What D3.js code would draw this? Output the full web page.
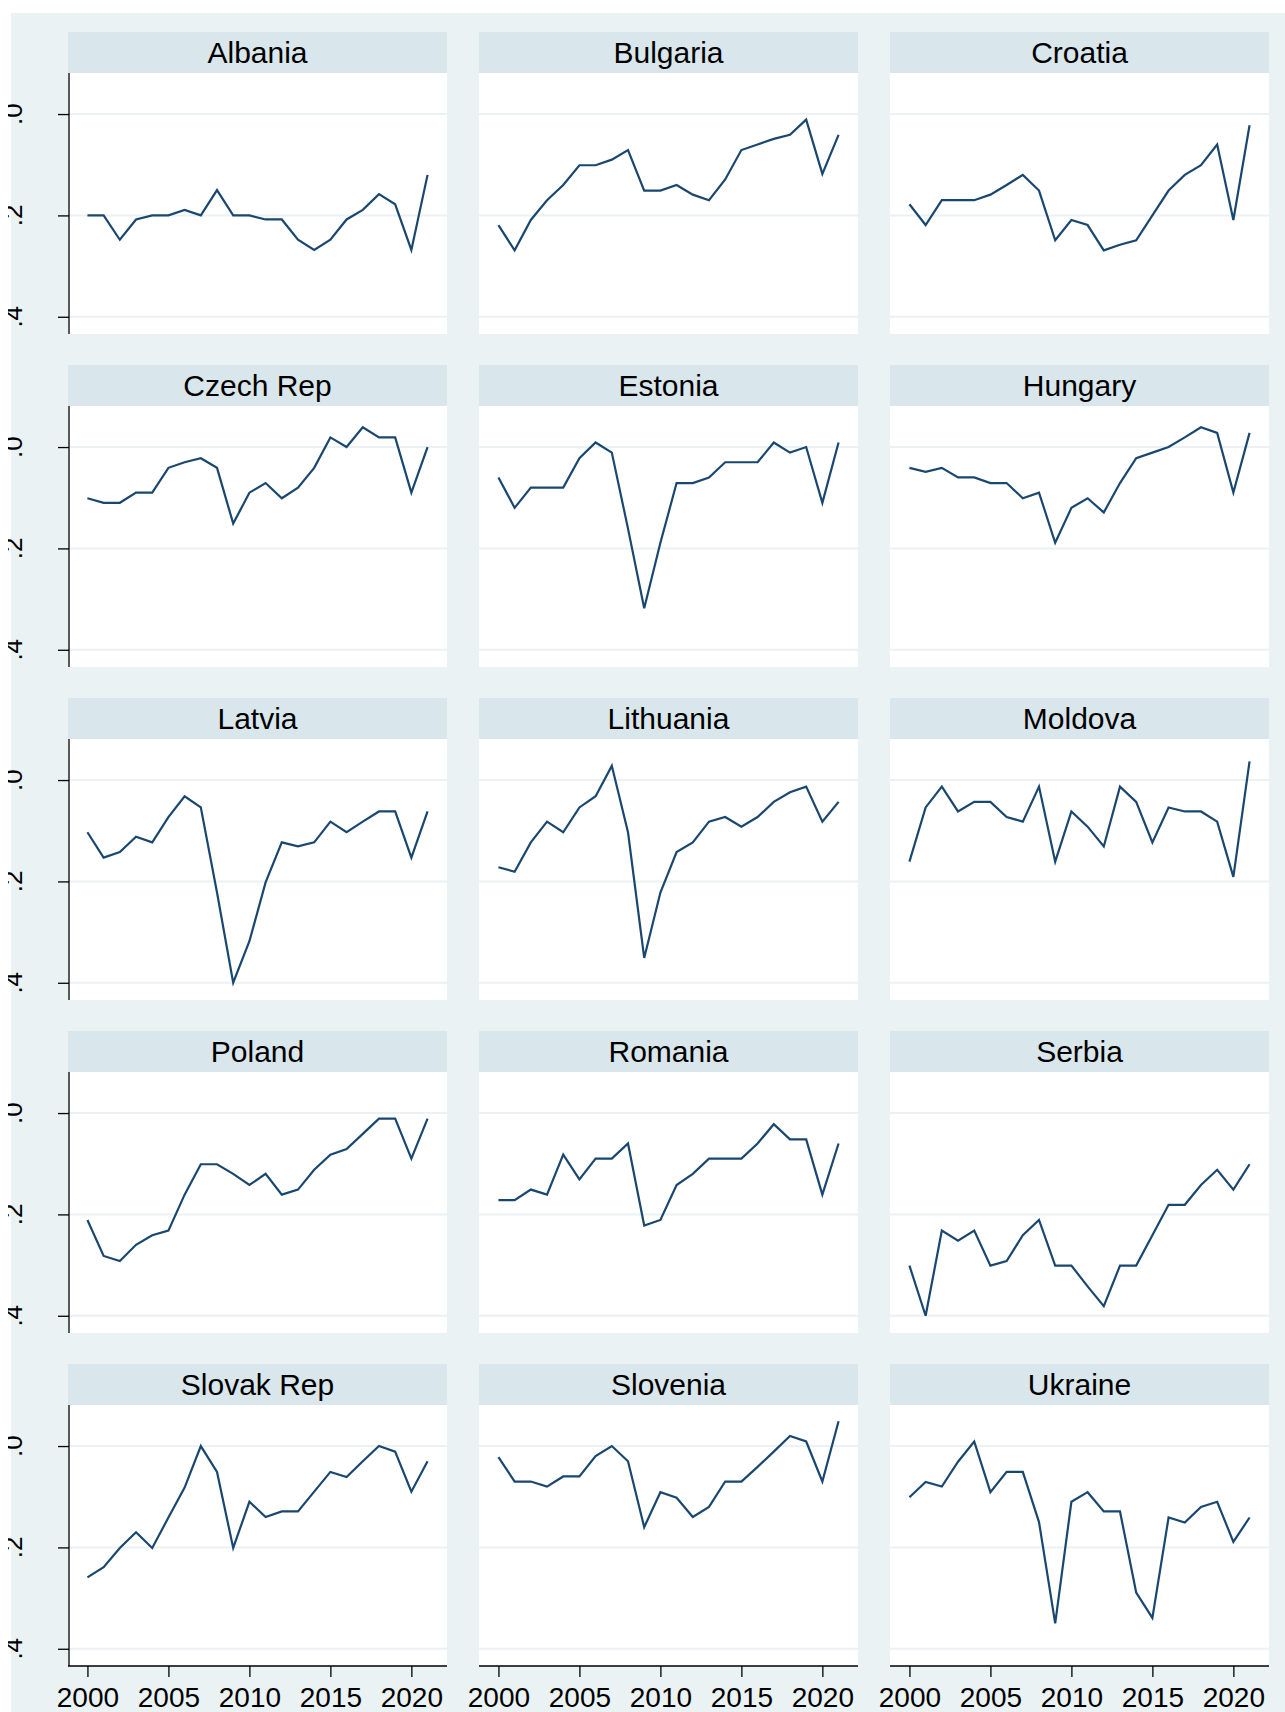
<!DOCTYPE html>
<html>
<head>
<meta charset="utf-8">
<script src="https://cdn.jsdelivr.net/npm/d3@7/dist/d3.min.js"></script>
<style>
body { margin: 0; background: #fff; }
svg { display: block; }
text { font-family: "Liberation Sans", Arial, Helvetica, sans-serif; fill: #000; }
</style>
</head>
<body>
<svg width="1285" height="1712"></svg>
<script>
// years on the x axis
var years = [2000, 2001, 2002, 2003, 2004, 2005, 2006, 2007, 2008, 2009, 2010,
             2011, 2012, 2013, 2014, 2015, 2016, 2017, 2018, 2019, 2020, 2021];

var xTicks = [2000, 2005, 2010, 2015, 2020];
var yTicks = [0, 0.2, 0.4]; // axis runs downward, .0 on top

// one series per panel
var albania   = [0.200, 0.200, 0.248, 0.208, 0.200, 0.200, 0.189, 0.200, 0.150, 0.200, 0.200, 0.208, 0.208, 0.248, 0.268, 0.248, 0.208, 0.189, 0.158, 0.178, 0.268, 0.120];
var bulgaria  = [0.219, 0.269, 0.209, 0.170, 0.140, 0.101, 0.101, 0.090, 0.071, 0.151, 0.151, 0.140, 0.159, 0.170, 0.129, 0.071, 0.060, 0.049, 0.041, 0.011, 0.118, 0.041];
var croatia   = [0.178, 0.219, 0.170, 0.170, 0.170, 0.159, 0.140, 0.120, 0.151, 0.249, 0.209, 0.219, 0.269, 0.258, 0.249, 0.200, 0.151, 0.120, 0.101, 0.060, 0.209, 0.022];
var czech     = [0.101, 0.110, 0.110, 0.090, 0.090, 0.041, 0.030, 0.022, 0.041, 0.151, 0.090, 0.071, 0.101, 0.080, 0.041, -0.019, 0.000, -0.039, -0.019, -0.019, 0.090, 0.000];
var estonia   = [0.060, 0.120, 0.080, 0.080, 0.080, 0.022, -0.009, 0.011, 0.161, 0.318, 0.189, 0.071, 0.071, 0.060, 0.030, 0.030, 0.030, -0.009, 0.011, 0.000, 0.110, -0.009];
var hungary   = [0.041, 0.049, 0.041, 0.060, 0.060, 0.071, 0.071, 0.101, 0.090, 0.189, 0.120, 0.101, 0.129, 0.071, 0.022, 0.011, 0.000, -0.019, -0.039, -0.028, 0.090, -0.028];
var latvia    = [0.103, 0.153, 0.142, 0.112, 0.123, 0.073, 0.032, 0.054, 0.222, 0.400, 0.318, 0.202, 0.123, 0.131, 0.123, 0.082, 0.103, 0.082, 0.062, 0.062, 0.153, 0.062];
var lithuania = [0.172, 0.181, 0.123, 0.082, 0.103, 0.054, 0.032, -0.028, 0.103, 0.351, 0.222, 0.142, 0.123, 0.082, 0.073, 0.092, 0.073, 0.043, 0.024, 0.013, 0.082, 0.043];
var moldova   = [0.161, 0.054, 0.013, 0.062, 0.043, 0.043, 0.073, 0.082, 0.013, 0.161, 0.062, 0.092, 0.131, 0.013, 0.043, 0.123, 0.054, 0.062, 0.062, 0.082, 0.191, -0.037];
var poland    = [0.211, 0.282, 0.292, 0.260, 0.241, 0.232, 0.161, 0.101, 0.101, 0.120, 0.142, 0.120, 0.161, 0.151, 0.112, 0.082, 0.071, 0.041, 0.011, 0.011, 0.090, 0.011];
var romania   = [0.172, 0.172, 0.151, 0.161, 0.082, 0.131, 0.090, 0.090, 0.060, 0.222, 0.211, 0.142, 0.120, 0.090, 0.090, 0.090, 0.060, 0.022, 0.052, 0.052, 0.161, 0.060];
var serbia    = [0.301, 0.400, 0.232, 0.252, 0.232, 0.301, 0.292, 0.241, 0.211, 0.301, 0.301, 0.342, 0.381, 0.301, 0.301, 0.241, 0.181, 0.181, 0.142, 0.112, 0.151, 0.101];
var slovak    = [0.259, 0.239, 0.201, 0.170, 0.201, 0.141, 0.082, 0.000, 0.051, 0.201, 0.110, 0.140, 0.129, 0.129, 0.090, 0.051, 0.061, 0.030, 0.000, 0.011, 0.090, 0.030];
var slovenia  = [0.022, 0.070, 0.070, 0.080, 0.060, 0.060, 0.020, 0.000, 0.030, 0.160, 0.091, 0.102, 0.140, 0.120, 0.070, 0.070, 0.041, 0.011, -0.020, -0.009, 0.070, -0.049];
var ukraine   = [0.101, 0.071, 0.080, 0.031, -0.009, 0.091, 0.051, 0.051, 0.150, 0.350, 0.110, 0.091, 0.129, 0.129, 0.289, 0.339, 0.141, 0.151, 0.120, 0.110, 0.189, 0.141];

var countries = ["Albania", "Bulgaria", "Croatia",
                 "Czech Rep", "Estonia", "Hungary",
                 "Latvia", "Lithuania", "Moldova",
                 "Poland", "Romania", "Serbia",
                 "Slovak Rep", "Slovenia", "Ukraine"];
var series = [albania, bulgaria, croatia, czech, estonia, hungary, latvia, lithuania,
              moldova, poland, romania, serbia, slovak, slovenia, ukraine];

var svg = d3.select("svg");

// stata s2color look
var bgColor = "#eaf2f3",
    headColor = "#d9e6eb",
    lineColor = "#1a476f";

var colX = [68, 479, 890],
    rowY = [32, 365, 698, 1031, 1364],
    panelW = 379,
    headH = 41,
    plotH = 261;

svg.append("rect")
    .attr("x", 11).attr("y", 13)
    .attr("width", 1285 - 11).attr("height", 1712 - 13)
    .attr("fill", bgColor);

var x = d3.scaleLinear().domain([1998.8, 2022.2]).range([0, panelW]);
var y = d3.scaleLinear().domain([-0.081, 0.434]).range([0, plotH]);

var line = d3.line()
    .x(function(d, i) { return x(years[i]); })
    .y(function(d) { return y(d); });

svg.append("clipPath").attr("id", "lblclip")
  .append("rect").attr("x", 8).attr("y", 0).attr("width", 60).attr("height", 1712);

countries.forEach(function(name, k) {
    var col = k % 3, row = Math.floor(k / 3);
    var g = svg.append("g")
        .attr("transform", "translate(" + colX[col] + "," + rowY[row] + ")");

    // header strip
    g.append("rect")
        .attr("width", panelW).attr("height", headH)
        .attr("fill", headColor);
    g.append("text")
        .attr("x", panelW / 2).attr("y", 31)
        .attr("text-anchor", "middle")
        .style("font-size", "30px")
        .text(name);

    var p = g.append("g").attr("transform", "translate(0," + headH + ")");
    p.append("rect")
        .attr("width", panelW).attr("height", plotH)
        .attr("fill", "#fff");

    // grid
    p.selectAll(".grid")
        .data(yTicks)
        .enter().append("line")
        .attr("x1", 0).attr("x2", panelW)
        .attr("y1", function(d) { return y(d); })
        .attr("y2", function(d) { return y(d); })
        .attr("stroke", bgColor)
        .attr("stroke-width", 2);

    p.append("path")
        .datum(series[k])
        .attr("d", line)
        .attr("fill", "none")
        .attr("stroke", lineColor)
        .attr("stroke-width", 2.2)
        .attr("stroke-linejoin", "miter");

    if (col == 0) {
        var ya = p.append("g")
            .attr("transform", "translate(1,0)")
            .call(d3.axisLeft(y).tickValues(yTicks).tickSize(11).tickFormat(""));
        ya.select(".domain").attr("d", "M0,0V" + plotH).attr("stroke", "#000").attr("stroke-width", 1.3);
        ya.selectAll(".tick line").attr("stroke", "#000").attr("stroke-width", 1.3);

        // rotated labels, cut off at the left edge like the original
        svg.append("g")
            .attr("clip-path", "url(#lblclip)")
            .selectAll("text")
            .data(yTicks)
            .enter().append("text")
            .attr("transform", function(d) {
                return "translate(22," + (rowY[row] + headH + y(d)) + ") rotate(-90)";
            })
            .attr("text-anchor", "middle")
            .style("font-size", "26px")
            .text(function(d) { return d3.format(".1f")(d).replace(/^0/, ""); });
    }

    if (row == rowY.length - 1) {
        var xa = p.append("g")
            .attr("transform", "translate(0," + plotH + ")")
            .call(d3.axisBottom(x).tickValues(xTicks).tickSize(11).tickPadding(10).tickFormat(d3.format("d")));
        xa.select(".domain").attr("d", "M0,0H" + panelW).attr("stroke", "#000").attr("stroke-width", 1.3);
        xa.selectAll(".tick line").attr("stroke", "#000").attr("stroke-width", 1.3);
        xa.selectAll(".tick text")
            .style("font-size", "28px")
            .style("font-family", '"Liberation Sans", Arial, sans-serif')
            .attr("fill", "#000");
    }
});
</script>
</body>
</html>
